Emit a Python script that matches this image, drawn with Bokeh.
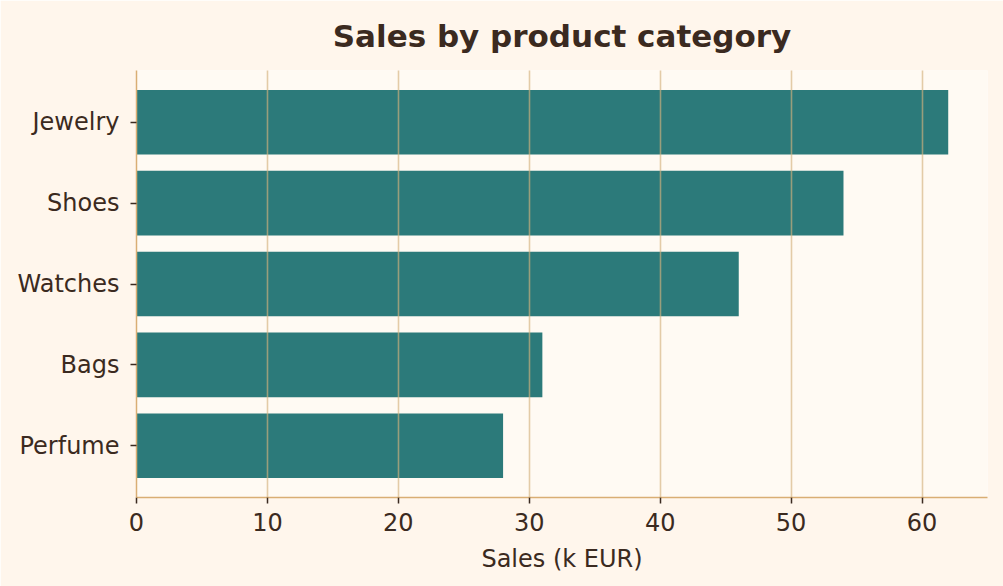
from bokeh.plotting import figure
from bokeh.models import Range1d, FixedTicker, ColumnDataSource
from bokeh.embed import file_html
from bokeh.resources import INLINE

categories = ["Perfume", "Bags", "Watches", "Shoes", "Jewelry"]
sales = [28, 31, 46, 54, 62]
x_ticks = [0, 10, 20, 30, 40, 50, 60]
title_text = "Sales by product category"

TEXT = "#3B2A20"
FONT = "DejaVu Sans"

src = ColumnDataSource(dict(y=list(range(len(categories))), v=sales))

p = figure(width=1003, height=586, output_backend="svg", toolbar_location=None,
           x_range=Range1d(0, 65), y_range=Range1d(-0.64, 4.64),
           min_border_left=136, min_border_right=16, min_border_top=70, min_border_bottom=89)
p.background_fill_color = "#FFFAF3"
p.border_fill_color = "#FFF6EC"
p.outline_line_color = None

p.hbar(y="y", right="v", left=0, height=0.8, source=src, color="#2C7A7A", line_color=None)

p.title.text = title_text
p.title.text_font = FONT
p.title.text_font_size = "31px"
p.title.text_font_style = "bold"
p.title.text_color = TEXT
p.title.align = "center"
p.title.vertical_align = "top"
p.title.standoff = 30

p.xaxis.ticker = FixedTicker(ticks=x_ticks)
p.yaxis.ticker = FixedTicker(ticks=list(range(len(categories))))
p.yaxis.major_label_overrides = {i: c for i, c in enumerate(categories)}
p.xaxis.axis_label = "Sales (k EUR)"

for ax in (p.xaxis, p.yaxis):
    ax.axis_line_color = "#D9AE74"
    ax.axis_line_width = 1.5
    ax.major_tick_line_color = TEXT
    ax.major_tick_line_width = 1.5
    ax.major_tick_out = 6
    ax.major_tick_in = 0
    ax.minor_tick_line_color = None
    ax.major_label_text_font = FONT
    ax.major_label_text_font_size = "24px"
    ax.major_label_text_color = TEXT
    ax.axis_label_text_font = FONT
    ax.axis_label_text_font_size = "24px"
    ax.axis_label_text_color = TEXT
    ax.axis_label_text_font_style = "normal"

p.yaxis.major_label_standoff = 11
p.xaxis.major_label_standoff = 9
p.xaxis.axis_label_standoff = 11
p.ygrid.grid_line_color = None
p.xgrid.grid_line_color = "#D4B27E"
p.xgrid.grid_line_alpha = 0.65
p.xgrid.grid_line_width = 1.6
p.xgrid.level = "overlay"

open("out.html", "w").write(file_html(p, INLINE))
